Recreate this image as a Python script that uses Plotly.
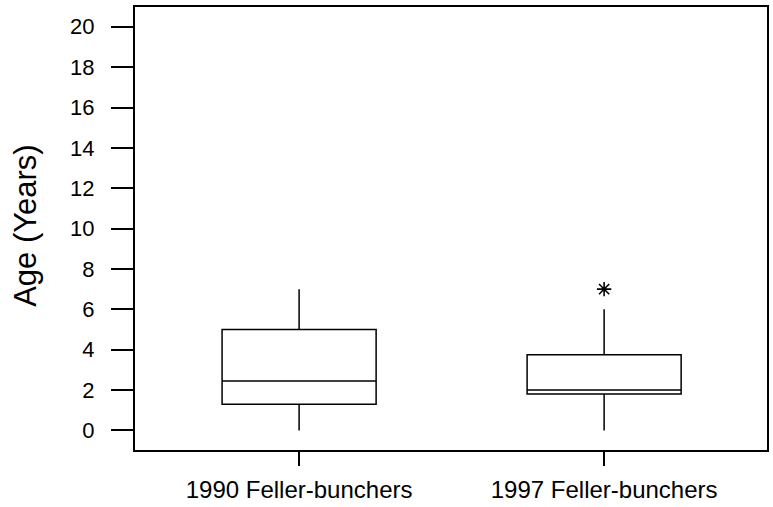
import plotly.graph_objects as go

# Machine age by fleet survey year (box summaries, years)
categories = ["1990 Feller-bunchers", "1997 Feller-bunchers"]
q1_vals = [1.3, 1.8]
median_vals = [2.45, 2.0]
q3_vals = [5.0, 3.75]
lower_fence = [0.0, 0.0]
upper_fence = [7.0, 6.0]

# Outlying observations shown as asterisks
outlier_cats = ["1997 Feller-bunchers"]
outlier_vals = [7.0]

y_ticks = list(range(0, 21, 2))

FONT = "Liberation Sans, Arial, sans-serif"

fig = go.Figure()
for i, cat in enumerate(categories):
    fig.add_trace(go.Box(
        x=[cat],
        q1=[q1_vals[i]],
        median=[median_vals[i]],
        q3=[q3_vals[i]],
        lowerfence=[lower_fence[i]],
        upperfence=[upper_fence[i]],
        boxpoints=False,
        fillcolor="white",
        line=dict(color="black", width=1.5),
        whiskerwidth=0,
        width=0.505,
        showlegend=False,
        hoverinfo="skip",
    ))

fig.add_trace(go.Scatter(
    x=outlier_cats,
    y=outlier_vals,
    mode="markers",
    marker=dict(symbol="asterisk-open", size=12, color="black",
                line=dict(color="black", width=1.6)),
    showlegend=False,
    hoverinfo="skip",
))

fig.update_layout(
    width=773,
    height=507,
    margin=dict(l=135, r=4, t=7, b=54),
    paper_bgcolor="white",
    plot_bgcolor="white",
    font=dict(family=FONT, color="black", size=22),
    xaxis=dict(
        type="category",
        categoryorder="array",
        categoryarray=categories,
        range=[-0.538, 1.534],
        showgrid=False,
        zeroline=False,
        showline=True,
        linecolor="black",
        linewidth=2,
        mirror=True,
        ticks="outside",
        ticklen=14,
        tickwidth=1.5,
        tickcolor="black",
        tickfont=dict(size=24, family=FONT),
        ticklabelstandoff=3,
    ),
    yaxis=dict(
        range=[-0.97, 20.98],
        tickvals=y_ticks,
        ticktext=[str(v) for v in y_ticks],
        showgrid=False,
        zeroline=False,
        showline=True,
        linecolor="black",
        linewidth=2,
        mirror=True,
        ticks="outside",
        ticklen=22,
        tickwidth=1.5,
        tickcolor="black",
        tickfont=dict(size=22, family=FONT),
        ticklabelstandoff=12,
    ),
    annotations=[dict(
        text="Age (Years)",
        xref="paper", yref="paper",
        x=(25 - 135) / 634, y=(453 - 227) / 446,
        xanchor="center", yanchor="middle",
        textangle=-90,
        showarrow=False,
        font=dict(size=31, family=FONT, color="black"),
    )],
)

fig.write_html("out.html")
